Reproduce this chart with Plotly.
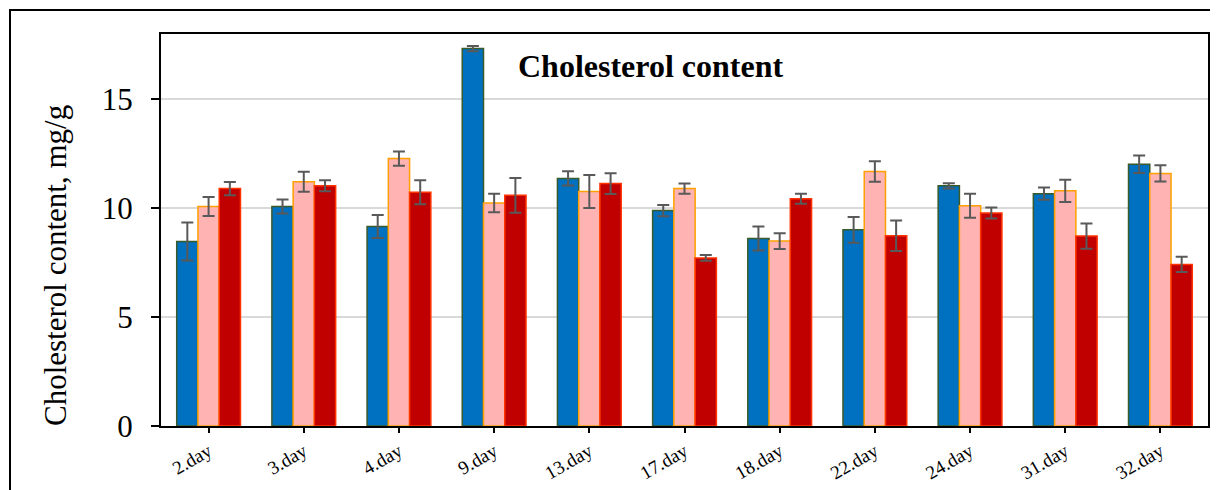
import plotly.graph_objects as go

categories = ["2.day", "3.day", "4.day", "9.day", "13.day", "17.day", "18.day", "22.day", "24.day", "31.day", "32.day"]

series1 = [8.47, 10.08, 9.16, 17.33, 11.37, 9.89, 8.61, 9.01, 11.03, 10.67, 12.02]
series1_err = [0.87, 0.32, 0.53, 0.12, 0.33, 0.26, 0.55, 0.59, 0.12, 0.28, 0.40]

series2 = [10.08, 11.22, 12.28, 10.24, 10.77, 10.90, 8.49, 11.69, 10.11, 10.80, 11.60]
series2_err = [0.44, 0.46, 0.33, 0.43, 0.76, 0.23, 0.36, 0.47, 0.55, 0.51, 0.37]

series3 = [10.90, 11.03, 10.73, 10.59, 11.13, 7.72, 10.44, 8.74, 9.78, 8.72, 7.42]
series3_err = [0.30, 0.25, 0.55, 0.80, 0.48, 0.13, 0.23, 0.70, 0.25, 0.58, 0.35]

fills = ["#0070C0", "#FFB3B3", "#C00000"]
outlines = ["#3A5A2A", "#FFA000", "#FF3300"]

fig = go.Figure()
for vals, errs, fc, lc in zip([series1, series2, series3],
                              [series1_err, series2_err, series3_err],
                              fills, outlines):
    fig.add_trace(go.Bar(
        x=categories, y=vals,
        marker=dict(color=fc, line=dict(color=lc, width=1.5)),
        error_y=dict(type="data", array=errs, visible=True,
                     color="#595959", thickness=2, width=6),
        showlegend=False,
    ))

serif = "Liberation Serif, Times New Roman, serif"

# page body adds an 8px offset; figure coords = screen coords - 8
OFF = 8
FW, FH = 1218 - OFF, 490 - OFF
L, R, T, B = 161 - OFF, 1208 - OFF, 34 - OFF, 426 - OFF
W, H = R - L, B - T

fig.update_layout(
    width=FW, height=FH,
    paper_bgcolor="white", plot_bgcolor="white",
    margin=dict(l=L, r=FW - R, t=T, b=FH - B, autoexpand=False),
    barmode="group", bargap=0.33, bargroupgap=0,
    font=dict(family=serif, color="black"),
    xaxis=dict(
        automargin=False,
        showline=True, linecolor="black", linewidth=2, mirror=True,
        ticks="outside", ticklen=5, tickcolor="black", tickwidth=2,
        tickangle=-30, tickfont=dict(size=19, family=serif),
        showgrid=False,
    ),
    yaxis=dict(
        automargin=False,
        range=[0, 18], tickvals=[0, 5, 10, 15],
        showline=True, linecolor="black", linewidth=2, mirror=True,
        ticks="outside", ticklen=8, tickcolor="black", tickwidth=2,
        tickfont=dict(size=31, family=serif), ticklabelstandoff=12,
        showgrid=True, gridcolor="#D9D9D9", gridwidth=1.5,
        zeroline=False,
    ),
    annotations=[
        dict(
            text="<b>Cholesterol content</b>", xref="paper", yref="paper",
            x=(650 - OFF - L) / W, y=(B - (66 - OFF)) / H, xanchor="center", yanchor="middle",
            showarrow=False, font=dict(size=32, family=serif, color="black"),
        ),
        dict(
            text="Cholesterol content, mg/g", xref="paper", yref="paper",
            x=(55 - OFF - L) / W, y=(B - (266 - OFF)) / H, xanchor="center", yanchor="middle",
            textangle=-90, showarrow=False,
            font=dict(size=31, family=serif, color="black"),
        ),
    ],
    shapes=[dict(
        type="rect", xref="paper", yref="paper",
        x0=(10 - OFF - L) / W, x1=(1240 - L) / W,
        y0=(B - 520) / H, y1=(B - (10 - OFF)) / H,
        line=dict(color="black", width=2), layer="below",
    )],
)

fig.write_html("out.html")
